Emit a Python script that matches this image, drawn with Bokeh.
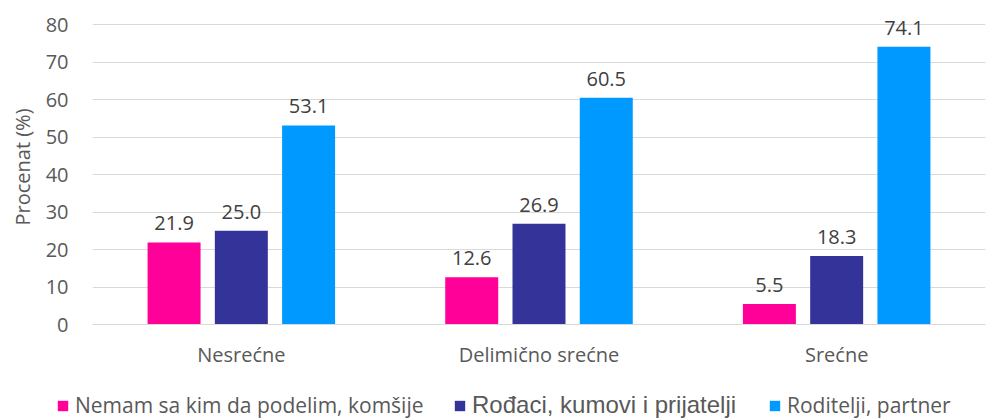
from bokeh.plotting import figure
from bokeh.layouts import column
from bokeh.models import Range1d, FixedTicker, Legend, LegendItem, ColumnDataSource
from bokeh.transform import dodge
from bokeh.core.properties import value
from bokeh.embed import file_html
from bokeh.resources import INLINE

categories = ["Nesrećne", "Delimično srećne", "Srećne"]
series_names = ["Nemam sa kim da podelim, komšije", "Rođaci, kumovi i prijatelji", "Roditelji, partner"]
nemam = [21.9, 12.6, 5.5]
rodjaci = [25.0, 26.9, 18.3]
roditelji = [53.1, 60.5, 74.1]
y_ticks = [0, 10, 20, 30, 40, 50, 60, 70, 80]

colors = ["#FF0099", "#333399", "#0099FF"]
offsets = [-0.226, 0.0, 0.226]
bar_w = 0.178
FONT = "Open Sans"
GRAY = "#595959"

p = figure(x_range=categories, y_range=Range1d(0, 84), width=988, height=372,
           output_backend="svg", toolbar_location=None,
           min_border_left=92, min_border_right=3, min_border_top=9, min_border_bottom=48)
p.frame_align = False
p.outline_line_color = None
p.background_fill_color = "white"
p.border_fill_color = "white"

p.xgrid.grid_line_color = None
p.ygrid.grid_line_color = "#D9D9D9"
p.ygrid.grid_line_width = 1
p.ygrid.ticker = FixedTicker(ticks=y_ticks)

p.yaxis.ticker = FixedTicker(ticks=y_ticks)
p.yaxis.axis_line_color = None
p.yaxis.major_tick_line_color = None
p.yaxis.minor_tick_line_color = None
p.yaxis.major_tick_out = 0
p.yaxis.major_tick_in = 0
p.yaxis.major_label_standoff = 24
p.yaxis.major_label_text_font = FONT
p.yaxis.major_label_text_font_size = "20px"
p.yaxis.major_label_text_color = GRAY
p.yaxis.axis_label = "Procenat (%)"
p.yaxis.axis_label_text_font = FONT
p.yaxis.axis_label_text_font_size = "20px"
p.yaxis.axis_label_text_font_style = "normal"
p.yaxis.axis_label_text_color = GRAY
p.yaxis.axis_label_standoff = 7

p.xaxis.axis_line_color = "#D9D9D9"
p.xaxis.major_tick_line_color = None
p.xaxis.minor_tick_line_color = None
p.xaxis.major_tick_out = 0
p.xaxis.major_tick_in = 0
p.xaxis.major_label_standoff = 16
p.xaxis.major_label_text_font = FONT
p.xaxis.major_label_text_font_size = "20px"
p.xaxis.major_label_text_color = GRAY

series_vals = [nemam, rodjaci, roditelji]
for vals, col, off in zip(series_vals, colors, offsets):
    src = ColumnDataSource(dict(cat=categories, val=vals, lbl=[f"{v:.1f}" for v in vals]))
    p.vbar(x=dodge("cat", off, range=p.x_range), top="val", width=bar_w, source=src,
           fill_color=col, line_color=None)
    p.text(x=dodge("cat", off, range=p.x_range), y="val", text="lbl", source=src,
           text_align="center", text_baseline="alphabetic", y_offset=-19,
           text_font=value(FONT), text_font_size="20px", text_color="#404040")

# legend strip below the chart
lf = figure(width=988, height=47, x_range=categories, y_range=Range1d(0, 84),
            output_backend="svg", toolbar_location=None,
            x_axis_location=None, y_axis_location=None,
            min_border_left=0, min_border_right=0, min_border_top=0, min_border_bottom=0)
lf.frame_align = False
lf.grid.visible = False
lf.outline_line_color = None
lf.background_fill_color = "white"
lf.border_fill_color = "white"

leg_specs = [
    (0, 56, FONT, "21px"),
    (1, 453, "Liberation Sans", "24px"),
    (2, 768, FONT, "21px"),
]
for i, lx, fnt, fsz in leg_specs:
    src = ColumnDataSource(dict(cat=categories, val=series_vals[i]))
    r = lf.vbar(x="cat", top="val", width=bar_w, source=src,
                fill_color=colors[i], line_color=None, visible=False)
    leg = Legend(items=[LegendItem(label=series_names[i], renderers=[r])], location=(lx, 0),
                 orientation="horizontal", padding=0, margin=0, spacing=0,
                 glyph_width=13, glyph_height=13, label_standoff=6, label_height=13,
                 label_text_font=fnt, label_text_font_size=fsz, label_text_color=GRAY,
                 border_line_color=None, background_fill_alpha=0)
    lf.add_layout(leg)

layout = column(p, lf, spacing=0)
open("out.html", "w").write(file_html(layout, INLINE))
